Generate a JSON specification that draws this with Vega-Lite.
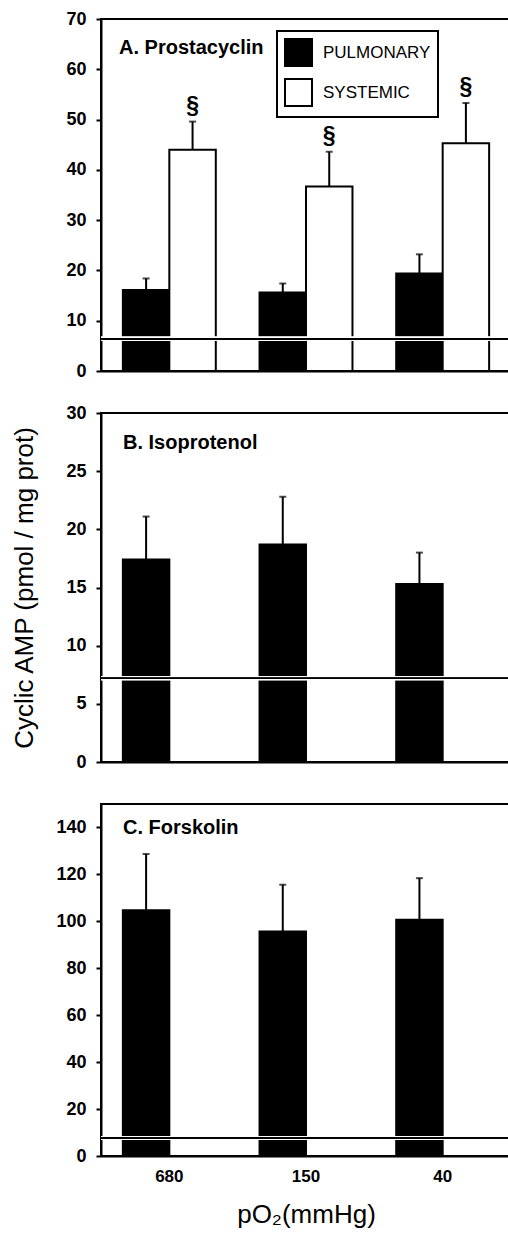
{
  "$schema": "https://vega.github.io/schema/vega-lite/v6.json",
  "background": "white",
  "padding": {"left": 10, "top": 9, "right": 0, "bottom": 5},
  "config": {
    "font": "Liberation Sans",
    "view": {"stroke": "black", "strokeWidth": 2},
    "axis": {"domainColor": "black", "domainWidth": 2, "tickColor": "black", "tickWidth": 2, "tickSize": 5, "labelPadding": 10, "labelColor": "black", "titleColor": "black", "grid": false, "labelFont": "Liberation Sans", "titleFont": "Liberation Sans", "labelFontSize": 18, "labelFontWeight": "bold", "zindex": 1},
    "legend": {"strokeWidth": 2},
    "title": {"color": "black", "font": "Liberation Sans", "fontSize": 20, "fontWeight": "bold", "anchor": "start", "frame": "group"}
  },
  "spacing": 42,
  "bounds": "flush",
  "resolve": {"scale": {"x": "independent", "y": "independent", "color": "independent"}, "legend": {"color": "independent"}},
  "datasets": {
    "a": [
      {"po2": "680", "series": "PULMONARY", "value": 16.1, "upper": 18.4, "sig": ""},
      {"po2": "680", "series": "SYSTEMIC", "value": 44.0, "upper": 49.6, "sig": "§"},
      {"po2": "150", "series": "PULMONARY", "value": 15.6, "upper": 17.4, "sig": ""},
      {"po2": "150", "series": "SYSTEMIC", "value": 36.7, "upper": 43.6, "sig": "§"},
      {"po2": "40", "series": "PULMONARY", "value": 19.4, "upper": 23.2, "sig": ""},
      {"po2": "40", "series": "SYSTEMIC", "value": 45.3, "upper": 53.3, "sig": "§"}
    ],
    "b": [
      {"po2": "680", "series": "PULMONARY", "value": 17.4, "upper": 21.1},
      {"po2": "150", "series": "PULMONARY", "value": 18.7, "upper": 22.8},
      {"po2": "40", "series": "PULMONARY", "value": 15.3, "upper": 18.0}
    ],
    "c": [
      {"po2": "680", "series": "PULMONARY", "value": 104.7, "upper": 128.7},
      {"po2": "150", "series": "PULMONARY", "value": 95.7, "upper": 115.6},
      {"po2": "40", "series": "PULMONARY", "value": 100.7, "upper": 118.4}
    ]
  },
  "vconcat": [
    {
      "width": 410, "height": 352,
      "title": {"text": "A. Prostacyclin", "offset": -48, "dx": 18},
      "data": {"name": "a"},
      "layer": [
        {
          "mark": {"type": "bar", "stroke": "black", "strokeWidth": 2},
          "encoding": {
            "x": {"field": "po2", "type": "nominal", "sort": ["680", "150", "40"], "scale": {"paddingInner": 0.32, "paddingOuter": 0.16}, "axis": {"labels": false, "ticks": false, "title": null}},
            "xOffset": {"field": "series", "type": "nominal", "scale": {"domain": ["PULMONARY", "SYSTEMIC"], "paddingInner": 0, "paddingOuter": 0}},
            "y": {"field": "value", "type": "quantitative", "scale": {"domain": [0, 70], "nice": false}, "axis": {"title": null, "values": [0, 10, 20, 30, 40, 50, 60, 70]}},
            "color": {"field": "series", "type": "nominal", "scale": {"domain": ["PULMONARY", "SYSTEMIC"], "range": ["black", "white"]},
              "legend": {"title": null, "orient": "none", "legendX": 176, "legendY": 12, "symbolType": "square", "symbolSize": 729, "symbolStrokeColor": "black", "symbolStrokeWidth": 2, "symbolOpacity": 1, "labelFontSize": 17, "labelFont": "Liberation Sans", "labelColor": "black", "labelOffset": 10, "rowPadding": 5, "padding": 7, "strokeColor": "black"}}
          }
        },
        {"mark": {"type": "rule", "color": "white", "strokeWidth": 4}, "encoding": {"y": {"datum": 6.4}}},
        {"mark": {"type": "rule", "color": "black", "strokeWidth": 1.5}, "encoding": {"y": {"datum": 6.4}}},
        {
          "mark": {"type": "rule", "color": "black", "strokeWidth": 2},
          "encoding": {
            "x": {"field": "po2", "type": "nominal", "sort": ["680", "150", "40"]},
            "xOffset": {"field": "series", "type": "nominal"},
            "y": {"field": "value", "type": "quantitative"},
            "y2": {"field": "upper"}
          }
        },
        {
          "mark": {"type": "tick", "orient": "horizontal", "size": 7, "thickness": 2, "color": "black"},
          "encoding": {
            "x": {"field": "po2", "type": "nominal", "sort": ["680", "150", "40"]},
            "xOffset": {"field": "series", "type": "nominal"},
            "y": {"field": "upper", "type": "quantitative"}
          }
        },
        {
          "mark": {"type": "text", "fontSize": 23, "fontWeight": "bold", "baseline": "alphabetic", "dy": -9, "color": "black"},
          "encoding": {
            "x": {"field": "po2", "type": "nominal", "sort": ["680", "150", "40"]},
            "xOffset": {"field": "series", "type": "nominal"},
            "y": {"field": "upper", "type": "quantitative"},
            "text": {"field": "sig"}
          }
        }
      ]
    },
    {
      "width": 410, "height": 349,
      "title": {"text": "B. Isoprotenol", "offset": -49, "dx": 22},
      "data": {"name": "b"},
      "layer": [
        {
          "mark": {"type": "bar", "fill": "black", "stroke": "black", "strokeWidth": 2},
          "encoding": {
            "x": {"field": "po2", "type": "nominal", "sort": ["680", "150", "40"], "scale": {"paddingInner": 0.32, "paddingOuter": 0.16}, "axis": {"labels": false, "ticks": false, "title": null}},
            "xOffset": {"field": "series", "type": "nominal", "scale": {"domain": ["PULMONARY", "SYSTEMIC"], "paddingInner": 0, "paddingOuter": 0}},
            "y": {"field": "value", "type": "quantitative", "scale": {"domain": [0, 30], "nice": false}, "axis": {"title": "Cyclic AMP (pmol / mg prot)", "titleFontSize": 26, "titleFontWeight": "normal", "titlePadding": 28, "values": [0, 5, 10, 15, 20, 25, 30]}}
          }
        },
        {"mark": {"type": "rule", "color": "white", "strokeWidth": 4}, "encoding": {"y": {"datum": 7.2}}},
        {"mark": {"type": "rule", "color": "black", "strokeWidth": 1.5}, "encoding": {"y": {"datum": 7.2}}},
        {
          "mark": {"type": "rule", "color": "black", "strokeWidth": 2},
          "encoding": {
            "x": {"field": "po2", "type": "nominal", "sort": ["680", "150", "40"]},
            "xOffset": {"field": "series", "type": "nominal"},
            "y": {"field": "value", "type": "quantitative"},
            "y2": {"field": "upper"}
          }
        },
        {
          "mark": {"type": "tick", "orient": "horizontal", "size": 7, "thickness": 2, "color": "black"},
          "encoding": {
            "x": {"field": "po2", "type": "nominal", "sort": ["680", "150", "40"]},
            "xOffset": {"field": "series", "type": "nominal"},
            "y": {"field": "upper", "type": "quantitative"}
          }
        }
      ]
    },
    {
      "width": 410, "height": 352,
      "title": {"text": "C. Forskolin", "offset": -34, "dx": 22},
      "data": {"name": "c"},
      "layer": [
        {
          "mark": {"type": "bar", "fill": "black", "stroke": "black", "strokeWidth": 2},
          "encoding": {
            "x": {"field": "po2", "type": "nominal", "sort": ["680", "150", "40"], "scale": {"paddingInner": 0.32, "paddingOuter": 0.16}, "axis": {"labels": true, "ticks": false, "labelAngle": 0, "labelPadding": 12, "labelFontSize": 17, "title": "pO₂(mmHg)", "titleFontSize": 26, "titleFontWeight": "normal", "titlePadding": 17}},
            "xOffset": {"field": "series", "type": "nominal", "scale": {"domain": ["PULMONARY", "SYSTEMIC"], "paddingInner": 0, "paddingOuter": 0}},
            "y": {"field": "value", "type": "quantitative", "scale": {"domain": [0, 150], "nice": false}, "axis": {"title": null, "values": [0, 20, 40, 60, 80, 100, 120, 140]}}
          }
        },
        {"mark": {"type": "rule", "color": "white", "strokeWidth": 4}, "encoding": {"y": {"datum": 7.7}}},
        {"mark": {"type": "rule", "color": "black", "strokeWidth": 1.5}, "encoding": {"y": {"datum": 7.7}}},
        {
          "mark": {"type": "rule", "color": "black", "strokeWidth": 2},
          "encoding": {
            "x": {"field": "po2", "type": "nominal", "sort": ["680", "150", "40"]},
            "xOffset": {"field": "series", "type": "nominal"},
            "y": {"field": "value", "type": "quantitative"},
            "y2": {"field": "upper"}
          }
        },
        {
          "mark": {"type": "tick", "orient": "horizontal", "size": 7, "thickness": 2, "color": "black"},
          "encoding": {
            "x": {"field": "po2", "type": "nominal", "sort": ["680", "150", "40"]},
            "xOffset": {"field": "series", "type": "nominal"},
            "y": {"field": "upper", "type": "quantitative"}
          }
        }
      ]
    }
  ]
}
